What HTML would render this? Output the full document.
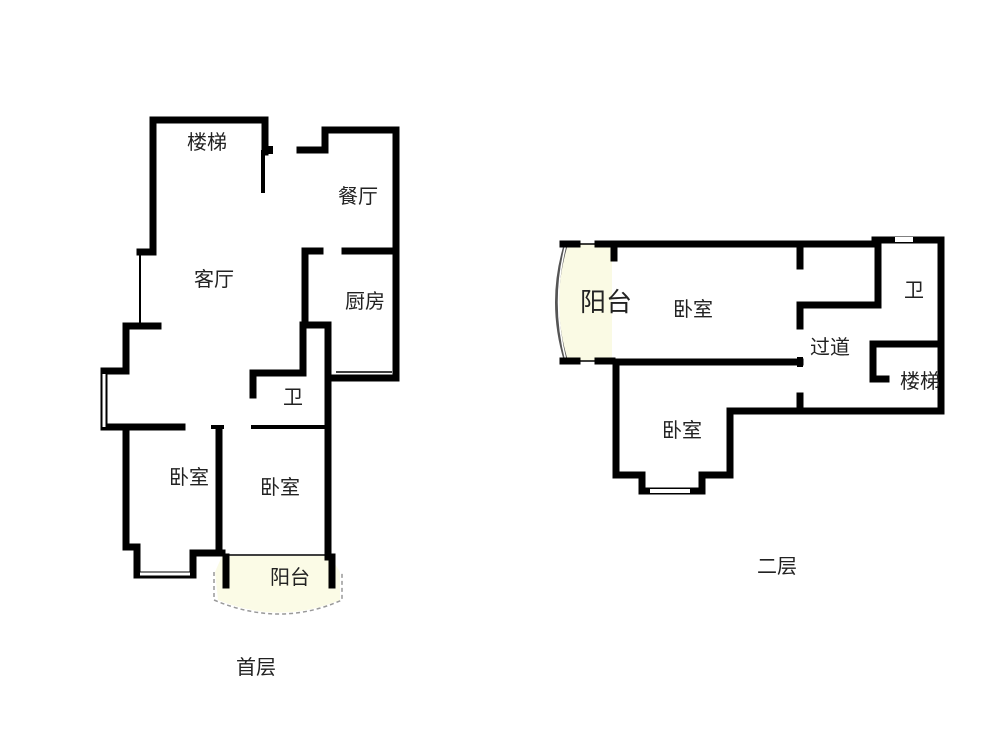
<!DOCTYPE html>
<html><head><meta charset="utf-8"><style>
body{margin:0;background:#fff;width:1000px;height:750px;overflow:hidden}
text{font-family:"Liberation Sans","Noto Sans CJK SC",sans-serif;fill:#222;text-anchor:middle;dominant-baseline:central}
</style></head><body>
<svg width="1000" height="750" viewBox="0 0 1000 750">
<!-- first floor balcony fill -->
<path d="M222,556 L330,556 L340,572 L340,600 Q280,625 218,600 L215,572 Z" fill="#fbfbe6"/>
<path d="M214,572 L214,600 Q280,628 342,600 L342,572" fill="none" stroke="#999" stroke-dasharray="4,3" stroke-width="1.5"/>
<g fill="none" stroke="#000" stroke-width="7" stroke-linecap="square">
<!-- first floor -->
<polyline points="265,152 265,120 153,120 153,252 140,252"/>
<polyline points="126,326 158,326"/>
<polyline points="140,322 140,256" stroke-width="2"/>
<polyline points="126,326 126,371 104,371 104,427 182,427"/>
<polyline points="104,374 104,427" />
<polyline points="126,430 126,547 137,547 137,575 193,575 193,553 222,553"/>
<polyline points="219,430 219,553"/>
<polyline points="300,150 325,150 325,130 396,130 396,378 333,378"/>
<polyline points="305,325 305,251 320,251"/>
<polyline points="345,251 396,251"/>
<polyline points="253,395 253,373 303,373 303,325 328,325 328,557"/>
<polyline points="253,427 328,427" stroke-width="4"/>
<polyline points="213,427 222,427" stroke-width="4"/>
<polyline points="226,557 226,585"/>
<polyline points="332,557 332,585"/>
</g>
<line x1="263" y1="150" x2="263" y2="193" stroke="#000" stroke-width="4"/>
<rect x="262" y="146" width="11" height="8" fill="#000"/>
<line x1="336" y1="372" x2="392" y2="372" stroke="#000" stroke-width="1.5"/>
<line x1="104" y1="374" x2="104" y2="427" stroke="#fff" stroke-width="3"/>
<line x1="140" y1="574" x2="190" y2="574" stroke="#fff" stroke-width="3"/>
<line x1="226" y1="555" x2="330" y2="555" stroke="#000" stroke-width="1.5"/>
<!-- second floor balcony -->
<path d="M566,244 Q548,302 566,361 L612,361 L612,244 Z" fill="#fafae4"/>
<path d="M566,244 Q548,302 566,361" fill="none" stroke="#555" stroke-width="4"/>
<path d="M566,244 Q551,302 566,361" fill="none" stroke="#fff" stroke-width="1.5"/>
<g fill="none" stroke="#000" stroke-width="7" stroke-linecap="square">
<polyline points="612,244 875,244"/>
<polyline points="875,240 941,240 941,411 730,411 730,475 702,475 702,491 642,491 642,475 616,475 616,362 800,362"/>
<polyline points="800,250 800,266"/>
<polyline points="800,326 800,305 878,305 878,247"/>
<polyline points="800,396 800,408"/>
<polyline points="886,379 873,379 873,344 941,344"/>
<polyline points="563,244 577,244"/><polyline points="598,244 612,244"/>
<polyline points="563,361 577,361"/><polyline points="598,361 612,361"/>
<polyline points="614,247 614,258"/>
</g>
<line x1="577" y1="244" x2="598" y2="244" stroke="#000" stroke-width="1.5"/>
<line x1="577" y1="361" x2="598" y2="361" stroke="#000" stroke-width="1.5"/>
<rect x="895" y="237" width="18" height="5" fill="#fff"/>
<rect x="650" y="489" width="40" height="4" fill="#fff"/>
<rect x="797" y="357" width="6" height="10" fill="#000"/>
<!-- labels -->
<g font-size="20">
<text x="207" y="143">楼梯</text>
<text x="358" y="197">餐厅</text>
<text x="214" y="280">客厅</text>
<text x="365" y="302">厨房</text>
<text x="293" y="398">卫</text>
<text x="189" y="478">卧室</text>
<text x="280" y="488">卧室</text>
<text x="290" y="578">阳台</text>
<text x="256" y="668">首层</text>
<text x="693" y="310">卧室</text>
<text x="914" y="291">卫</text>
<text x="830" y="348">过道</text>
<text x="920" y="382">楼梯</text>
<text x="682" y="431">卧室</text>
<text x="777" y="567">二层</text>
</g>
<text x="606" y="302" font-size="26">阳台</text>
</svg>
</body></html>
